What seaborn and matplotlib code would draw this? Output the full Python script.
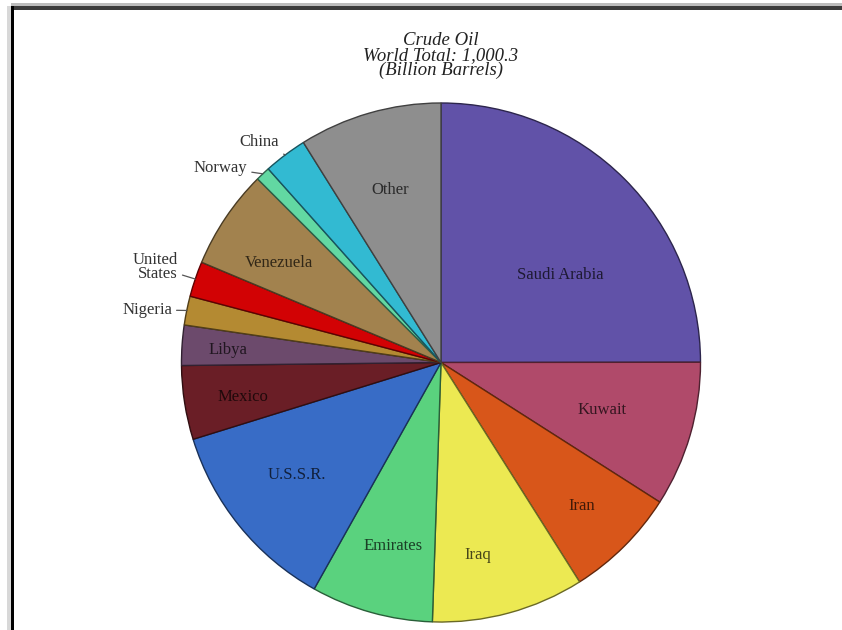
import matplotlib
matplotlib.use('Agg')
import matplotlib.pyplot as plt
import matplotlib.colors as mcolors
import numpy as np
import seaborn as sns

# crude oil reserves, billion barrels
countries = ['Saudi Arabia', 'Kuwait', 'Iran', 'Iraq', 'Emirates', 'U.S.S.R.', 'Mexico',
             'Libya', 'Nigeria', 'United\nStates', 'Venezuela', 'Norway', 'China', 'Other']
reserves = [250.0, 90.6, 70.0, 95.0, 76.0, 121.0, 46.0, 25.0, 18.0, 22.0, 62.0, 9.0, 27.0, 89.0]
colors = ['#6152a8', '#b04a6a', '#d8561a', '#ece952', '#5ad27e', '#386cc6', '#6a1e26',
          '#6c4a6c', '#b48a32', '#d20204', '#a2824e', '#62d8a2', '#32bad2', '#8e8e8e']
title_lines = ['Crude Oil', 'World Total: 1,000.3', '(Billion Barrels)']

# label anchors in pie units (radius = 1); outside labels are right-aligned
label_pos = [(0.459, 0.337), (0.620, -0.183), (0.543, -0.553), (0.143, -0.742),
             (-0.185, -0.707), (-0.555, -0.434), (-0.763, -0.133), (-0.820, 0.048),
             (-1.037, 0.203), (-1.014, 0.369), (-0.624, 0.383), (-0.747, 0.751),
             (-0.624, 0.848), (-0.197, 0.665)]
outside = ['China', 'Norway', 'United\nStates', 'Nigeria']

sns.set_theme(style='white')
plt.rcParams['font.family'] = ['Liberation Serif', 'DejaVu Serif']

fig = plt.figure(figsize=(8.42, 6.30), dpi=100)
W, H = 842, 630
cx, cy, r = 441, 362.5, 259.5
ax = fig.add_axes([(cx - r) / W, (H - cy - r) / H, 2 * r / W, 2 * r / H])

wedges, _ = ax.pie(reserves, colors=colors, startangle=90, counterclock=False, radius=1,
                   wedgeprops=dict(linewidth=1.0))
ax.set_xlim(-1, 1)
ax.set_ylim(-1, 1)
ax.set_aspect('equal')
ax.axis('off')

def darker(c, f=0.35):
    rgb = np.array(mcolors.to_rgb(c))
    return tuple(rgb * f)

for w, name, col, pos in zip(wedges, countries, colors, label_pos):
    w.set_edgecolor(darker(col, 0.45))
    mid = np.deg2rad((w.theta1 + w.theta2) / 2)
    if name in outside:
        ax.annotate(name, xy=(np.cos(mid), np.sin(mid)), xytext=pos,
                    ha='right', va='center', fontsize=12, color='#333333',
                    linespacing=0.8,
                    arrowprops=dict(arrowstyle='-', color='#555555', lw=0.9,
                                    shrinkA=1, shrinkB=0))
    else:
        ax.text(pos[0], pos[1], name, ha='center', va='center',
                fontsize=12, color=darker(col, 0.3))

fig.text(cx / W, 1 - 55.5 / H, '\n'.join(title_lines), ha='center', va='center',
         fontsize=13.5, style='italic', color='#222222', linespacing=0.85)

# screenshot frame on top and left
fig.add_artist(plt.Rectangle((11 / W, 1 - 6 / H), 1, 3 / H, transform=fig.transFigure,
                             color='#bdbdbd', lw=0))
fig.add_artist(plt.Rectangle((11 / W, 1 - 10 / H), 1, 4 / H, transform=fig.transFigure,
                             color='#3c3c3c', lw=0))
fig.add_artist(plt.Rectangle((7 / W, 0), 4 / W, 1 - 6 / H, transform=fig.transFigure,
                             color='#d8d8d8', lw=0))
fig.add_artist(plt.Rectangle((11 / W, 0), 3 / W, 1 - 6 / H, transform=fig.transFigure,
                             color='#000000', lw=0))

fig.savefig('out.png', dpi=100)
